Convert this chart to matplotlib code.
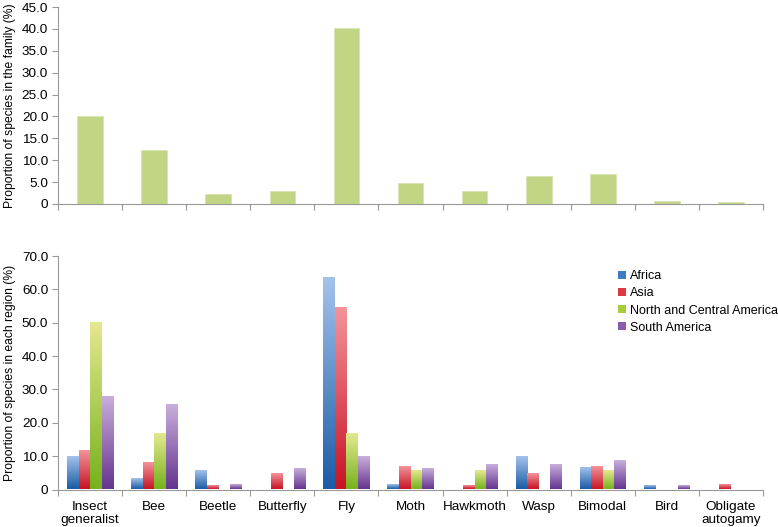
import matplotlib
matplotlib.use("Agg")
import matplotlib.pyplot as plt
import numpy as np
from matplotlib.colors import LinearSegmentedColormap
from matplotlib.ticker import FuncFormatter, FixedLocator
from matplotlib.patches import Patch

plt.rcParams['font.family'] = ['Liberation Sans', 'DejaVu Sans']

categories = ["Insect\ngeneralist", "Bee", "Beetle", "Butterfly", "Fly", "Moth",
              "Hawkmoth", "Wasp", "Bimodal", "Bird", "Obligate\nautogamy"]
family_pct = [20.0, 12.3, 2.3, 3.0, 40.3, 4.7, 2.9, 6.3, 6.9, 0.7, 0.4]

regions = ["Africa", "Asia", "North and Central America", "South America"]
africa = [9.6, 3.2, 5.4, 0.0, 63.3, 1.2, 0.0, 9.6, 6.4, 1.1, 0.0]
asia = [11.4, 8.0, 1.1, 4.5, 54.4, 6.8, 1.1, 4.6, 6.8, 0.0, 1.2]
nca = [50.0, 16.6, 0.0, 0.0, 16.6, 5.5, 5.5, 0.0, 5.5, 0.0, 0.0]
sam = [27.6, 25.2, 1.2, 6.0, 9.6, 6.0, 7.2, 7.2, 8.4, 1.1, 0.0]
region_values = [africa, asia, nca, sam]

grad_colors = [("#a3c2ea", "#1b5ca6"),
               ("#f3939a", "#c81425"),
               ("#e4e88e", "#76b21c"),
               ("#c8aedc", "#66348e")]
legend_colors = ["#3f7bc4", "#dc3a44", "#a6cc3a", "#8a5cb0"]

W, H = 778, 527
fig = plt.figure(figsize=(W / 100, H / 100), dpi=100)

left = 58 / W
width = (763 - 58) / W
ax1 = fig.add_axes([left, 1 - 204 / H, width, (204 - 7) / H])
ax2 = fig.add_axes([left, 1 - 489.5 / H, width, (489.5 - 256) / H])

spine_col = "#999999"
fs = 8.2
x = np.arange(len(categories))


def style(ax, ymax, step, ylabel):
    for s in ["top", "right"]:
        ax.spines[s].set_visible(False)
    for s in ["left", "bottom"]:
        ax.spines[s].set_color(spine_col)
        ax.spines[s].set_linewidth(0.8)
    ax.set_xlim(-0.5, len(categories) - 0.5)
    ax.set_ylim(0, ymax)
    ax.yaxis.set_major_locator(FixedLocator(np.arange(0, ymax + 0.01, step)))
    ax.yaxis.set_major_formatter(FuncFormatter(lambda v, p: "0" if v == 0 else f"{v:.1f}"))
    ax.xaxis.set_major_locator(FixedLocator(np.arange(-0.5, len(categories), 1.0)))
    ax.xaxis.set_major_formatter(FuncFormatter(lambda v, p: ""))
    ax.xaxis.set_minor_locator(FixedLocator(x))
    ax.tick_params(axis="x", which="major", direction="out", length=4, color=spine_col, width=0.8)
    ax.tick_params(axis="x", which="minor", length=0)
    ax.tick_params(axis="y", direction="out", length=4, color=spine_col, width=0.8,
                   labelsize=fs + 1.5, pad=3)
    ax.set_ylabel(ylabel, fontsize=fs + 0.5, labelpad=4)


# Top panel
ax1.bar(x, family_pct, width=0.4, color="#c2d585", edgecolor="#d8e4b4", linewidth=0.6)
style(ax1, 45, 5, "Proportion of species in the family (%)")

# Bottom panel
bw = 0.18
offsets = (np.arange(4) - 1.5) * bw
grad = np.linspace(1, 0, 64).reshape(-1, 1)
for vals, (top, bot), off, name, lc in zip(region_values, grad_colors, offsets, regions, legend_colors):
    bars = ax2.bar(x + off, vals, width=bw, color=lc, edgecolor="none", label=name)
    cmap = LinearSegmentedColormap.from_list(name, [bot, top])
    for b in bars:
        h = b.get_height()
        b.set_visible(False)
        if h <= 0:
            continue
        bx = b.get_x()
        ax2.imshow(grad, cmap=cmap, extent=[bx, bx + b.get_width(), 0, h],
                   aspect="auto", interpolation="bicubic", zorder=2)
ax2.set_aspect("auto")
style(ax2, 70, 10, "Proportion of species in each region (%)")
ax2.set_xticks(x, minor=True)
ax2.set_xticklabels(categories, minor=True, fontsize=fs + 1.5, linespacing=1.12)
ax2.tick_params(axis="x", which="minor", pad=8)

handles = [Patch(facecolor=c, edgecolor="none") for c in legend_colors]
leg = ax2.legend(handles, regions, loc="upper left", bbox_to_anchor=(0.795, 0.94),
                 frameon=False, fontsize=9.0, handlelength=0.6, handleheight=0.6,
                 handletextpad=0.35, labelspacing=0.42, borderaxespad=0, borderpad=0)

fig.savefig("out.png", dpi=100)
